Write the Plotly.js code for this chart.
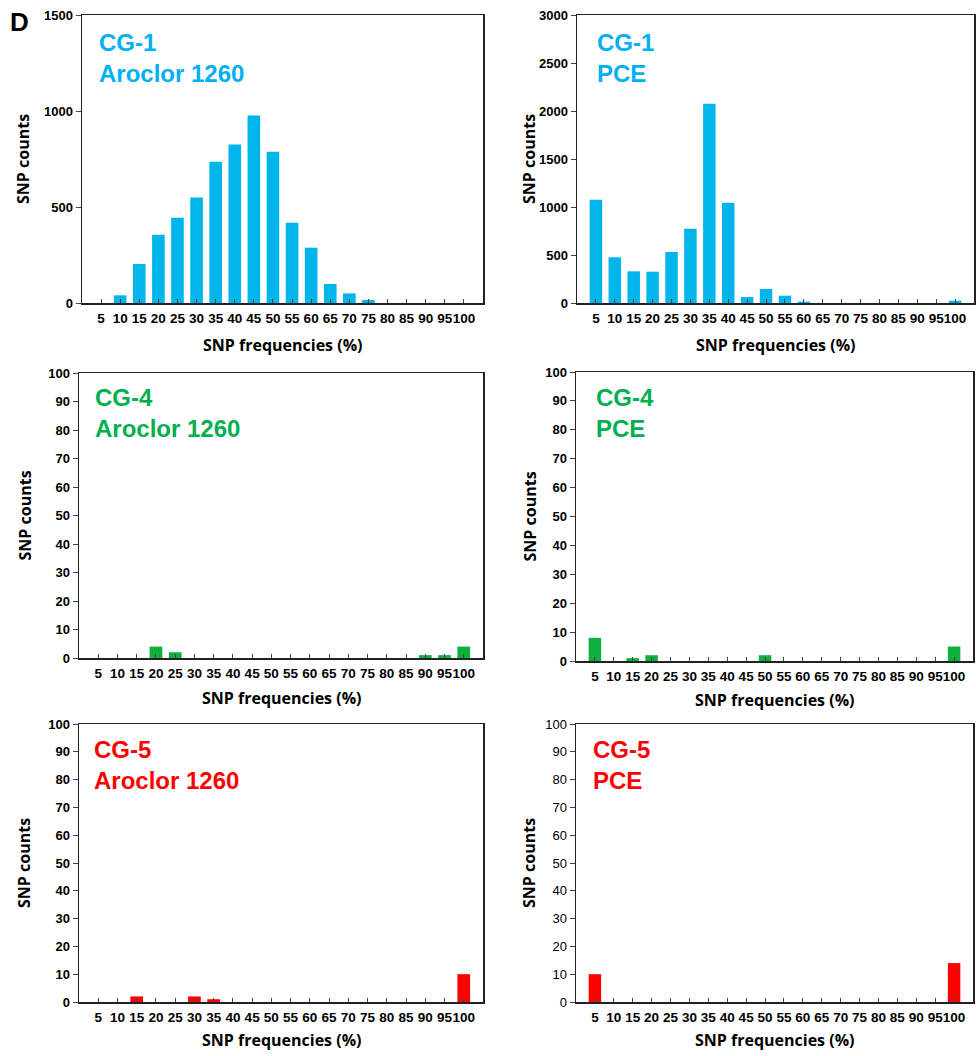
<!DOCTYPE html>
<html>
<head>
<meta charset="utf-8">
<script src="https://cdn.plot.ly/plotly-3.0.1.min.js"></script>
<style>html,body{margin:0;padding:0;background:#fff;}#chart{width:976px;height:1056px;}</style>
</head>
<body>
<div id="chart"></div>
<script>
// ---- data ----
const freqCategories = ['5','10','15','20','25','30','35','40','45','50','55','60','65','70','75','80','85','90','95','100'];
const cg1Aroclor = [0, 40, 203, 356, 444, 549, 736, 825, 976, 788, 418, 288, 99, 50, 16, 0, 0, 0, 0, 0];
const cg1PCE     = [1076, 476, 330, 326, 531, 774, 2076, 1045, 62, 146, 76, 14, 0, 0, 0, 0, 0, 0, 0, 24];
const cg4Aroclor = [0, 0, 0, 4, 2, 0, 0, 0, 0, 0, 0, 0, 0, 0, 0, 0, 0, 1, 1, 4];
const cg4PCE     = [8, 0, 1, 2, 0, 0, 0, 0, 0, 2, 0, 0, 0, 0, 0, 0, 0, 0, 0, 5];
const cg5Aroclor = [0, 0, 2, 0, 0, 2, 1, 0, 0, 0, 0, 0, 0, 0, 0, 0, 0, 0, 0, 10];
const cg5PCE     = [10, 0, 0, 0, 0, 0, 0, 0, 0, 0, 0, 0, 0, 0, 0, 0, 0, 0, 0, 14];
const panelLabels = ['CG-1<br>Aroclor 1260', 'CG-1<br>PCE', 'CG-4<br>Aroclor 1260', 'CG-4<br>PCE', 'CG-5<br>Aroclor 1260', 'CG-5<br>PCE'];
const yTitle = 'SNP counts';
const xTitle = 'SNP frequencies (%)';

// ---- layout geometry (pixels) ----
const W = 976, H = 1056;
const BLUE = '#00B5EA', GREEN = '#0DB03C', RED = '#FF0000';
const panels = [
  {vals: cg1Aroclor, color: BLUE,  txt: '#00B0F0', left: 82,  right: 483, top: 15,  bottom: 303, ymax: 1500, dtick: 500, lblX: 97, lblY: 27, ytX: 23, xtY: 345, tickBold: true},
  {vals: cg1PCE,     color: BLUE,  txt: '#00B0F0', left: 577, right: 974, top: 15,  bottom: 303, ymax: 3000, dtick: 500, lblX: 595, lblY: 27, ytX: 529, xtY: 345, tickBold: true},
  {vals: cg4Aroclor, color: GREEN, txt: '#00B050', left: 79,  right: 483, top: 373, bottom: 658, ymax: 100, dtick: 10, lblX: 93, lblY: 382, ytX: 24, xtY: 698, tickBold: true},
  {vals: cg4PCE,     color: GREEN, txt: '#00B050', left: 576, right: 973, top: 372, bottom: 661, ymax: 100, dtick: 10, lblX: 594, lblY: 382, ytX: 529, xtY: 700, tickBold: true},
  {vals: cg5Aroclor, color: RED,   txt: '#FF0000', left: 79,  right: 483, top: 724, bottom: 1002, ymax: 100, dtick: 10, lblX: 92, lblY: 734, ytX: 24, xtY: 1040, tickBold: true},
  {vals: cg5PCE,     color: RED,   txt: '#FF0000', left: 576, right: 973, top: 724, bottom: 1002, ymax: 100, dtick: 10, lblX: 591, lblY: 734, ytX: 529, xtY: 1040, tickBold: false}
];

const fam = '"Liberation Sans", Arial, sans-serif';
const titleFam = '"Open Sans", sans-serif';

const traces = [];
const layout = {
  width: W, height: H,
  margin: {l: 0, r: 0, t: 0, b: 0},
  paper_bgcolor: '#fff', plot_bgcolor: '#fff',
  showlegend: false,
  bargap: 0.34,
  annotations: [],
  font: {family: fam, color: '#000'}
};

panels.forEach((p, i) => {
  const n = i + 1;
  const xa = 'x' + (n === 1 ? '' : n), ya = 'y' + (n === 1 ? '' : n);
  const xk = 'xaxis' + (n === 1 ? '' : n), yk = 'yaxis' + (n === 1 ? '' : n);
  traces.push({
    type: 'bar', x: freqCategories, y: p.vals, xaxis: xa, yaxis: ya,
    marker: {color: p.color, line: {width: 0}},
    hoverinfo: 'x+y'
  });
  layout[xk] = {
    domain: [p.left / W, p.right / W],
    anchor: ya,
    type: 'category',
    categoryorder: 'array', categoryarray: freqCategories,
    range: [-1, 20],
    showline: true, linecolor: '#222', linewidth: 1.5, mirror: true,
    ticks: 'inside', ticklen: 4, tickwidth: 1, tickcolor: '#444',
    tickangle: 0,
    tickfont: {family: fam, size: 13.5, color: '#000', weight: 'bold'},
    ticklabelstandoff: 2,
    showgrid: false, zeroline: false, fixedrange: true
  };
  layout[yk] = {
    domain: [1 - p.bottom / H, 1 - p.top / H],
    anchor: xa,
    range: [0, p.ymax], dtick: p.dtick, tick0: 0,
    showline: true, linecolor: '#222', linewidth: 1.5, mirror: true,
    ticks: 'outside', ticklen: 5, tickwidth: 1, tickcolor: '#444',
    tickfont: {family: fam, size: 13, color: '#000', weight: p.tickBold ? 'bold' : 'normal'},
    showgrid: false, zeroline: false, fixedrange: true
  };
  layout.annotations.push({
    xref: 'paper', yref: 'paper', x: p.lblX / W, y: 1 - p.lblY / H,
    xanchor: 'left', yanchor: 'top', align: 'left', showarrow: false,
    text: panelLabels[i],
    font: {family: fam, size: 24, color: p.txt, weight: 'bold'}
  });
  layout.annotations.push({
    xref: 'paper', yref: 'paper', x: p.ytX / W, y: 1 - ((p.top + p.bottom) / 2) / H,
    xanchor: 'center', yanchor: 'middle', textangle: -90, showarrow: false,
    text: yTitle,
    font: {family: titleFam, size: 16, color: '#000', weight: 'bold'}
  });
  layout.annotations.push({
    xref: 'paper', yref: 'paper', x: ((p.left + p.right) / 2) / W, y: 1 - p.xtY / H,
    xanchor: 'center', yanchor: 'middle', showarrow: false,
    text: xTitle,
    font: {family: titleFam, size: 16, color: '#000', weight: 'bold'}
  });
});

layout.annotations.push({
  xref: 'paper', yref: 'paper', x: 19 / W, y: 1 - 22 / H,
  xanchor: 'center', yanchor: 'middle', showarrow: false,
  text: 'D', font: {family: fam, size: 26, color: '#000', weight: 'bold'}
});

Plotly.newPlot('chart', traces, layout, {displayModeBar: false, staticPlot: true});
</script>
</body>
</html>
